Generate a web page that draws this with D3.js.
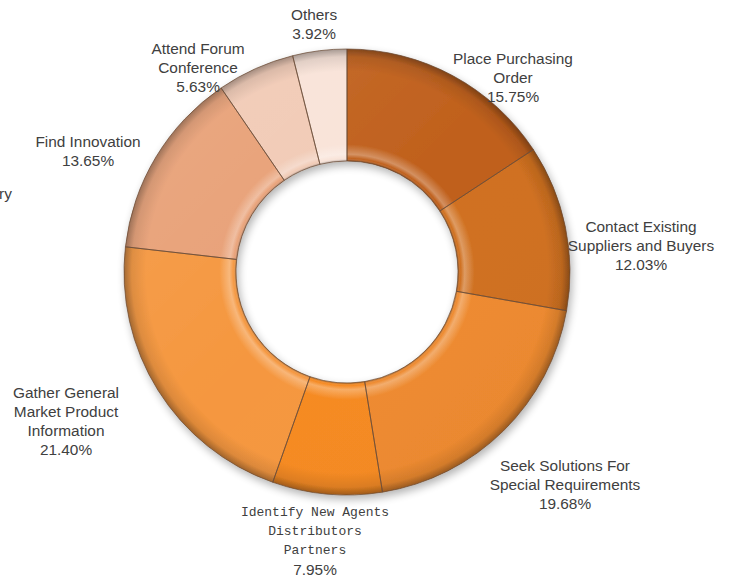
<!DOCTYPE html>
<html>
<head>
<meta charset="utf-8">
<script src="https://cdn.jsdelivr.net/npm/d3@7/dist/d3.min.js"></script>
<style>
  html, body { margin: 0; padding: 0; background: #fff; }
  svg { display: block; }
</style>
</head>
<body>
<svg id="chart" width="739" height="581"></svg>
<script>
// ---- data ----
const categories = [
  ["Place Purchasing", "Order"],
  ["Contact Existing", "Suppliers and Buyers"],
  ["Seek Solutions For", "Special Requirements"],
  ["Identify New Agents", "Distributors", "Partners"],
  ["Gather General", "Market Product", "Information"],
  ["Find Innovation"],
  ["Attend Forum", "Conference"],
  ["Others"]
];
const values = [15.75, 12.03, 19.68, 7.95, 21.40, 13.65, 5.63, 3.92];
const valueLabels = ["15.75%", "12.03%", "19.68%", "7.95%", "21.40%", "13.65%", "5.63%", "3.92%"];
const sliceColors = ["#c0601c", "#d0701f", "#ef8a2e", "#f68a22", "#f5973f", "#e8a076", "#f1cab5", "#f9e3d8"];

// ---- layout (label block centres, first line) ----
const labelLayout = [
  {x: 513, y: 58, mono: false},
  {x: 641, y: 226, mono: false},
  {x: 565, y: 465, mono: false},
  {x: 315, y: 512, mono: true},
  {x: 66, y: 392, mono: false},
  {x: 88, y: 141, mono: false},
  {x: 198, y: 48, mono: false},
  {x: 314, y: 14, mono: false}
];

const cx = 347, cy = 272;
const rOuter = 223, rInner = 111;

const svg = d3.select("#chart");
const defs = svg.append("defs");

// drop shadow
const f = defs.append("filter").attr("id", "shadow").attr("x", "-20%").attr("y", "-20%").attr("width", "140%").attr("height", "140%");
f.append("feGaussianBlur").attr("in", "SourceAlpha").attr("stdDeviation", 4).attr("result", "blur");
f.append("feOffset").attr("in", "blur").attr("dx", 2).attr("dy", 4).attr("result", "off");
f.append("feComponentTransfer").attr("in", "off").attr("result", "offa")
  .append("feFuncA").attr("type", "linear").attr("slope", 0.3);
const fm = f.append("feMerge");
fm.append("feMergeNode").attr("in", "offa");
fm.append("feMergeNode").attr("in", "SourceGraphic");

// bevel overlay gradient (radial)
const k = rInner / rOuter;
const bevel = defs.append("radialGradient").attr("id", "bevel")
  .attr("gradientUnits", "userSpaceOnUse").attr("cx", 0).attr("cy", 0).attr("r", rOuter);
[
  [0, "#000", 0],
  [k, "#000", 0.3],
  [k + 0.012, "#fff", 0.0],
  [k + 0.03, "#fff", 0.3],
  [k + 0.075, "#fff", 0.0],
  [0.9, "#000", 0.0],
  [0.965, "#000", 0.1],
  [1, "#000", 0.35]
].forEach(s => bevel.append("stop").attr("offset", s[0]).attr("stop-color", s[1]).attr("stop-opacity", s[2]));

// light from top-left
const light = defs.append("linearGradient").attr("id", "light")
  .attr("gradientUnits", "userSpaceOnUse").attr("x1", -rOuter).attr("y1", -rOuter).attr("x2", rOuter).attr("y2", rOuter);
light.append("stop").attr("offset", 0).attr("stop-color", "#fff").attr("stop-opacity", 0.1);
light.append("stop").attr("offset", 0.5).attr("stop-color", "#fff").attr("stop-opacity", 0);
light.append("stop").attr("offset", 1).attr("stop-color", "#000").attr("stop-opacity", 0.05);

const pie = d3.pie().sort(null).value(d => d).startAngle(0).endAngle(2 * Math.PI);
const arc = d3.arc().innerRadius(rInner).outerRadius(rOuter);
const arcs = pie(values);

const color = d3.scaleOrdinal().domain(d3.range(values.length)).range(sliceColors);

const g = svg.append("g").attr("transform", `translate(${cx},${cy})`);
const ring = g.append("g").attr("filter", "url(#shadow)");

ring.selectAll("path.slice").data(arcs).enter().append("path")
  .attr("class", "slice")
  .attr("d", arc)
  .attr("fill", (d, i) => color(i));

ring.selectAll("path.bev").data(arcs).enter().append("path")
  .attr("class", "bev")
  .attr("d", arc)
  .attr("fill", "url(#bevel)");

ring.selectAll("path.lt").data(arcs).enter().append("path")
  .attr("class", "lt")
  .attr("d", arc)
  .attr("fill", "url(#light)")
  .attr("stroke", "#6a4a35")
  .attr("stroke-opacity", 0.7)
  .attr("stroke-width", 1);

// labels
const sansFont = "'Liberation Sans', Arial, sans-serif";
const monoFont = "'Liberation Mono', 'DejaVu Sans Mono', monospace";
const lineH = 19.2;
const sansSize = "15.4px";

arcs.forEach((d, i) => {
  const L = labelLayout[i];
  const t = svg.append("text")
    .attr("text-anchor", "middle")
    .attr("fill", "#404040");
  const lines = categories[i];
  lines.forEach((ln, j) => {
    t.append("tspan")
      .attr("x", L.x)
      .attr("y", L.y + j * lineH)
      .attr("dominant-baseline", "central")
      .style("font-family", L.mono ? monoFont : sansFont)
      .style("font-size", L.mono ? "13px" : sansSize)
      .text(ln);
  });
  t.append("tspan")
    .attr("x", L.x)
    .attr("y", L.y + lines.length * lineH)
    .attr("dominant-baseline", "central")
    .style("font-family", sansFont)
    .style("font-size", sansSize)
    .text(valueLabels[i]);
});

// clipped stray label at left edge
svg.append("text")
  .attr("x", -1).attr("y", 193)
  .attr("dominant-baseline", "central")
  .attr("fill", "#404040")
  .style("font-family", sansFont)
  .style("font-size", sansSize)
  .text("ry");
</script>
</body>
</html>
